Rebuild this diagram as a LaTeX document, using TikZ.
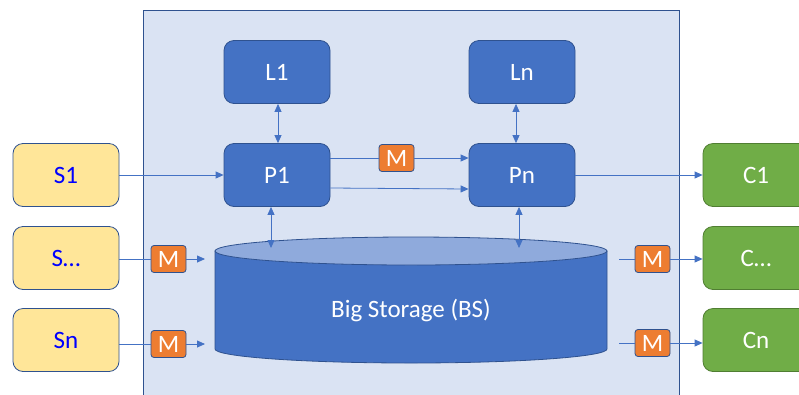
\documentclass[tikz,border=0pt]{standalone}
\usepackage{fontspec}
\setmainfont{Carlito}
\usetikzlibrary{arrows.meta}
\definecolor{frameblue}{HTML}{DAE3F3}
\definecolor{edgeblue}{HTML}{2F528F}
\definecolor{boxblue}{HTML}{4472C4}
\definecolor{lidblue}{HTML}{8FAADC}
\definecolor{srcyellow}{HTML}{FFE699}
\definecolor{sinkgreen}{HTML}{70AD47}
\definecolor{sinkedge}{HTML}{507E32}
\definecolor{msgorange}{HTML}{ED7D31}
\begin{document}
\begin{tikzpicture}[x=1pt,y=-1pt,
    proc/.style={rectangle,rounded corners=10pt,draw=edgeblue,fill=boxblue,text=white,line width=0.8pt,minimum width=106pt,minimum height=63pt,font=\fontsize{25}{30}\selectfont},
    source/.style={proc,fill=srcyellow,text=blue},
    sink/.style={proc,draw=sinkedge,fill=sinkgreen},
    msg/.style={rectangle,rounded corners=3pt,draw=edgeblue,fill=msgorange,text=white,line width=0.8pt,minimum width=35pt,minimum height=27pt,inner sep=0pt,font=\fontsize{25}{30}\selectfont},
    link/.style={draw=boxblue,line width=0.8pt},
    flow/.style={link,-{Triangle[length=8pt,width=7pt]}},
    duplex/.style={link,{Triangle[length=8pt,width=7pt]}-{Triangle[length=8pt,width=7pt]}}
]
\useasboundingbox (0,0) rectangle (799,394);

% system frame
\draw[edgeblue,fill=frameblue,line width=1pt] (143,10) rectangle (679,400);

% big storage
\draw[edgeblue,fill=boxblue,line width=0.8pt] (215,251) -- (215,349)
    arc[start angle=180,end angle=360,x radius=196pt,y radius=14pt] -- (607,251) -- cycle;
\draw[edgeblue,fill=lidblue,line width=0.8pt] (411,251) ellipse [x radius=196pt,y radius=14pt];
\node[text=white,font=\fontsize{25}{30}\selectfont] (BS) at (411,310) {Big Storage (BS)};
\coordinate (topP) at (271,248);
\coordinate (topQ) at (519,248);

\node[source] (S1) at (66,175) {S1};
\node[source] (S2) at (66,258) {S\ldots};
\node[source] (S3) at (66,340) {Sn};

\node[proc] (L1) at (277,72)  {L1};
\node[proc] (Ln) at (522,72)  {Ln};
\node[proc] (P1) at (277,175) {P1};
\node[proc] (Pn) at (522,175) {Pn};

\node[sink] (C1) at (756,175) {C1};
\node[sink] (C2) at (756,258) {C\ldots};
\node[sink] (C3) at (756,340) {Cn};

\node[msg] (M1) at (168.5,259) {M};
\node[msg] (M2) at (168.5,344) {M};
\node[msg] (M3) at (652.5,259) {M};
\node[msg] (M4) at (652.5,343) {M};
\node[msg] (M5) at (396.5,158) {M};

\coordinate (inS2) at (205,259);
\coordinate (inS3) at (205,344);
\coordinate (outC2) at (619,259);
\coordinate (outC3) at (619,343);

\draw[flow] (S1) -- (P1);
\draw[link] (S2.east |- M1) -- (M1);
\draw[flow] (M1) -- (inS2);
\draw[link] (S3.east |- M2) -- (M2);
\draw[flow] (M2) -- (inS3);

\draw[link] (P1.east |- M5) -- (M5);
\draw[flow] (M5) -- (Pn.west |- M5);
\draw[flow] ([yshift=-13pt]P1.east) -- ([yshift=-14pt]Pn.west);
\draw[flow] (Pn) -- (C1);

\draw[link] (outC2) -- (M3);
\draw[flow] (M3) -- (C2.west |- M3);
\draw[link] (outC3) -- (M4);
\draw[flow] (M4) -- (C3.west |- M4);

\draw[duplex] ([xshift=1pt]L1.south) -- ([xshift=1pt]P1.north);
\draw[duplex] ([xshift=-6pt]Ln.south) -- ([xshift=-6pt]Pn.north);
\draw[duplex] ([xshift=-6pt]P1.south) -- (topP);
\draw[duplex] ([xshift=-3pt]Pn.south) -- (topQ);
\end{tikzpicture}
\end{document}
